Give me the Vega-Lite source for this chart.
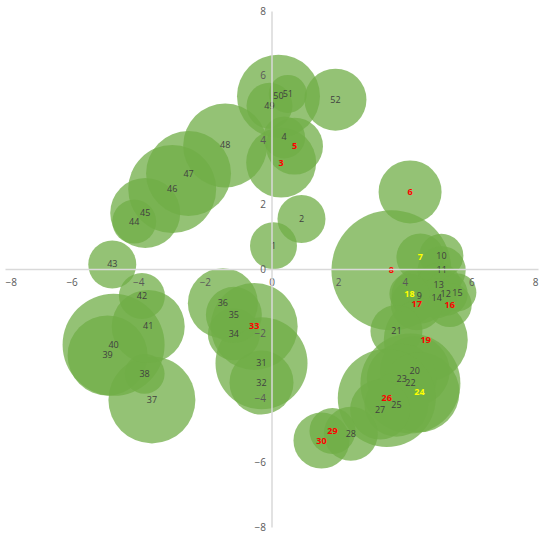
{
  "$schema": "https://vega.github.io/schema/vega-lite/v6.json",
  "width": 533,
  "height": 516,
  "autosize": {"type": "none"},
  "padding": {"left": 5, "top": 11, "right": 12, "bottom": 11},
  "background": "white",
  "config": {"view": {"stroke": null}},
  "data": {
    "values": [
      {"id": "1", "x": 0.06, "y": 0.72, "v": 5.52, "mark": "none"},
      {"id": "2", "x": 0.9, "y": 1.55, "v": 5.76, "mark": "none"},
      {"id": "3", "x": 0.29, "y": 3.3, "v": 12.25, "mark": "red"},
      {"id": "4", "x": 0.38, "y": 4.08, "v": 4.41, "mark": "none"},
      {"id": "5", "x": 0.69, "y": 3.81, "v": 8.12, "mark": "red"},
      {"id": "6", "x": 4.16, "y": 2.39, "v": 9.92, "mark": "red"},
      {"id": "7", "x": 4.47, "y": 0.36, "v": 5.76, "mark": "yellow"},
      {"id": "8", "x": 3.6, "y": -0.04, "v": 36, "mark": "red"},
      {"id": "9", "x": 4.44, "y": -0.83, "v": 7.84, "mark": "none"},
      {"id": "10", "x": 5.1, "y": 0.41, "v": 4.84, "mark": "none"},
      {"id": "11", "x": 5.11, "y": -0.04, "v": 5.76, "mark": "none"},
      {"id": "12", "x": 5.23, "y": -0.77, "v": 4.84, "mark": "none"},
      {"id": "13", "x": 5.02, "y": -0.49, "v": 4.84, "mark": "none"},
      {"id": "14", "x": 4.96, "y": -0.91, "v": 4.0, "mark": "none"},
      {"id": "15", "x": 5.58, "y": -0.73, "v": 3.61, "mark": "none"},
      {"id": "16", "x": 5.35, "y": -1.12, "v": 4.84, "mark": "red"},
      {"id": "17", "x": 4.36, "y": -1.09, "v": 6.76, "mark": "red"},
      {"id": "18", "x": 4.14, "y": -0.77, "v": 4.0, "mark": "yellow"},
      {"id": "19", "x": 4.63, "y": -2.2, "v": 17.64, "mark": "red"},
      {"id": "20", "x": 4.3, "y": -3.16, "v": 12.25, "mark": "none"},
      {"id": "21", "x": 3.75, "y": -1.92, "v": 6.76, "mark": "none"},
      {"id": "22", "x": 4.17, "y": -3.55, "v": 25, "mark": "none"},
      {"id": "23", "x": 3.91, "y": -3.4, "v": 12.25, "mark": "none"},
      {"id": "24", "x": 4.44, "y": -3.82, "v": 16, "mark": "yellow"},
      {"id": "25", "x": 3.75, "y": -4.21, "v": 10.24, "mark": "none"},
      {"id": "26", "x": 3.46, "y": -4.0, "v": 24.01, "mark": "red"},
      {"id": "27", "x": 3.26, "y": -4.36, "v": 9, "mark": "none"},
      {"id": "28", "x": 2.38, "y": -5.11, "v": 7.29, "mark": "none"},
      {"id": "29", "x": 1.83, "y": -5.02, "v": 5.29, "mark": "red"},
      {"id": "30", "x": 1.5, "y": -5.32, "v": 7.84, "mark": "red"},
      {"id": "31", "x": -0.3, "y": -2.92, "v": 21.16, "mark": "none"},
      {"id": "32", "x": -0.3, "y": -3.52, "v": 10.24, "mark": "none"},
      {"id": "33", "x": -0.52, "y": -1.78, "v": 18.92, "mark": "red"},
      {"id": "34", "x": -1.13, "y": -2.02, "v": 6.76, "mark": "none"},
      {"id": "35", "x": -1.13, "y": -1.42, "v": 7.84, "mark": "none"},
      {"id": "36", "x": -1.46, "y": -1.06, "v": 12.25, "mark": "none"},
      {"id": "37", "x": -3.59, "y": -4.06, "v": 18.92, "mark": "none"},
      {"id": "38", "x": -3.81, "y": -3.25, "v": 4.0, "mark": "none"},
      {"id": "39", "x": -4.92, "y": -2.68, "v": 16, "mark": "none"},
      {"id": "40", "x": -4.74, "y": -2.35, "v": 26.01, "mark": "none"},
      {"id": "41", "x": -3.7, "y": -1.78, "v": 13.32, "mark": "none"},
      {"id": "42", "x": -3.89, "y": -0.84, "v": 5.29, "mark": "none"},
      {"id": "43", "x": -4.78, "y": 0.14, "v": 5.76, "mark": "none"},
      {"id": "44", "x": -4.12, "y": 1.47, "v": 4.84, "mark": "none"},
      {"id": "45", "x": -3.79, "y": 1.74, "v": 12.25, "mark": "none"},
      {"id": "46", "x": -2.98, "y": 2.48, "v": 19.36, "mark": "none"},
      {"id": "47", "x": -2.49, "y": 2.96, "v": 18.06, "mark": "none"},
      {"id": "48", "x": -1.39, "y": 3.83, "v": 17.64, "mark": "none"},
      {"id": "49", "x": -0.06, "y": 5.06, "v": 5.29, "mark": "none"},
      {"id": "50", "x": 0.21, "y": 5.36, "v": 17.22, "mark": "none"},
      {"id": "51", "x": 0.49, "y": 5.43, "v": 3.61, "mark": "none"},
      {"id": "52", "x": 1.92, "y": 5.25, "v": 9.61, "mark": "none"}
    ]
  },
  "encoding": {
    "x": {
      "field": "x", "type": "quantitative",
      "scale": {"domain": [-8, 8], "nice": false, "zero": false},
      "axis": {
        "title": null, "values": [-8, -6, -4, -2, 0, 2, 4, 6, 8],
        "grid": false, "ticks": false, "offset": -258, "zindex": 1,
        "domainColor": "#D9D9D9", "domainWidth": 1.5,
        "labelColor": "#595959", "labelFontSize": 10, "labelFont": "Open Sans",
        "labelPadding": 8
      }
    },
    "y": {
      "field": "y", "type": "quantitative",
      "scale": {"domain": [-8, 8], "nice": false, "zero": false},
      "axis": {
        "title": null, "values": [-8, -6, -4, -2, 0, 2, 4, 6, 8],
        "grid": false, "ticks": false, "offset": -266.5, "zindex": 1,
        "domainColor": "#D9D9D9", "domainWidth": 1.5,
        "labelColor": "#595959", "labelFontSize": 10, "labelFont": "Open Sans",
        "labelPadding": 6
      }
    }
  },
  "layer": [
    {
      "mark": {"type": "circle", "color": "#70AD47", "opacity": 0.75, "strokeWidth": 0},
      "encoding": {
        "size": {"field": "v", "type": "quantitative", "legend": null,
          "scale": {"type": "linear", "domain": [0, 40], "range": [0, 16000], "zero": true}}
      }
    },
    {
      "transform": [{"filter": "datum.mark === 'none'"}],
      "mark": {"type": "text", "font": "Open Sans", "fontSize": 9, "color": "#404040"},
      "encoding": {"text": {"field": "id"}}
    },
    {
      "transform": [{"filter": "datum.mark !== 'none'"}],
      "mark": {"type": "text", "font": "Open Sans", "fontSize": 9, "fontWeight": "bold"},
      "encoding": {
        "text": {"field": "id"},
        "color": {"field": "mark", "type": "nominal", "legend": null,
          "scale": {"domain": ["red", "yellow"], "range": ["#FF0000", "#FFFF00"]}}
      }
    }
  ]
}
